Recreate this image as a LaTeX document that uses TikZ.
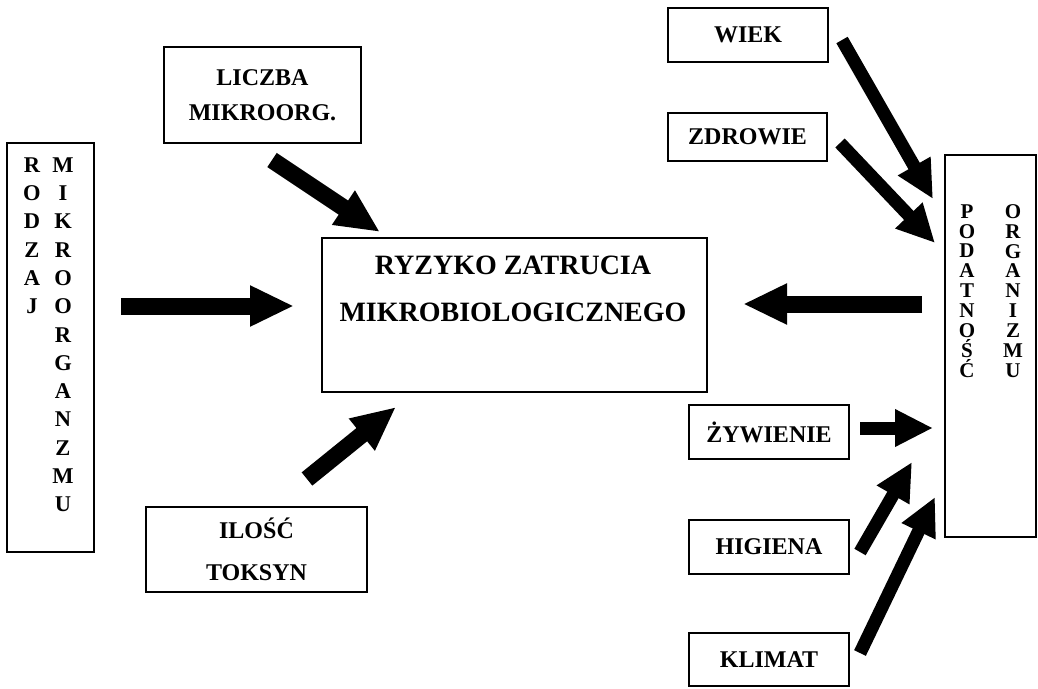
\documentclass[tikz,border=0pt]{standalone}
\usepackage{fontspec}
\setmainfont{Liberation Serif}
\usetikzlibrary{arrows.meta}
\begin{document}
\begin{tikzpicture}[x=1pt,y=-1pt,
  box/.style={draw=black, line width=1.2pt, inner sep=0pt, align=center,
    font=\bfseries\fontsize{24}{35}\selectfont},
  lbl/.style={inner sep=0pt, align=center},
  fat/.style={line width=17pt, -{Triangle[length=44pt,width=38pt]}},
  slim/.style={line width=13pt, -{Triangle[length=38pt,width=35pt]}}
]
\useasboundingbox[fill=white] (0,0) rectangle (1038,688);

% boxes
\node[box, minimum width=385, minimum height=154] (main) at (514.5,315) {};
\node[lbl, font=\bfseries\fontsize{28}{47}\selectfont] (mainT) at (513,289)
  {RYZYKO ZATRUCIA\\MIKROBIOLOGICZNEGO};

\node[box, minimum width=197, minimum height=96] (liczba) at (262.5,95) {LICZBA\\MIKROORG.};
\node[box, minimum width=221, minimum height=85, font=\bfseries\fontsize{24}{42}\selectfont] (ilosc) at (256.5,549.5) {ILOŚĆ\\TOKSYN};

\node[box, minimum width=87, minimum height=409] (rodzaj) at (50.5,347.5) {};
\node[lbl, font=\bfseries\fontsize{22.5}{28.3}\selectfont] (rodzajA) at (32,235.75)
  {R\\O\\D\\Z\\A\\J};
\node[lbl, font=\bfseries\fontsize{22.5}{28.3}\selectfont] (rodzajB) at (63,334.8)
  {M\\I\\K\\R\\O\\O\\R\\G\\A\\N\\Z\\M\\U};

\node[box, minimum width=160, minimum height=54] (wiek) at (748,35) {WIEK};
\node[box, minimum width=159, minimum height=48] (zdrowie) at (747.5,137) {ZDROWIE};
\node[box, minimum width=160, minimum height=54] (zywienie) at (769,432) {ŻYWIENIE};
\node[box, minimum width=160, minimum height=54] (higiena) at (769,547) {HIGIENA};
\node[box, minimum width=160, minimum height=53] (klimat) at (769,659.5) {KLIMAT};

\node[box, minimum width=91, minimum height=382] (podat) at (990.5,346) {};
\node[lbl, font=\bfseries\fontsize{21}{19.9}\selectfont] (podatA) at (967,291)
  {P\\O\\D\\A\\T\\N\\O\\Ś\\Ć};
\node[lbl, font=\bfseries\fontsize{21}{19.9}\selectfont] (podatB) at (1013,291)
  {O\\R\\G\\A\\N\\I\\Z\\M\\U};

% arrow end points
\coordinate (a1t) at (272,160); \coordinate (a1h) at (380,232);
\coordinate (a2t) at (121,306); \coordinate (a2h) at (294,306);
\coordinate (a3t) at (922,304); \coordinate (a3h) at (743,304);
\coordinate (a4t) at (307,479); \coordinate (a4h) at (396,407);
\coordinate (a5t) at (842,40);  \coordinate (a5h) at (933,199);
\coordinate (a6t) at (840,143); \coordinate (a6h) at (935,243);
\coordinate (a7t) at (860,428); \coordinate (a7h) at (933,428);
\coordinate (a8t) at (860,552); \coordinate (a8h) at (912,462);
\coordinate (a9t) at (860,653); \coordinate (a9h) at (935,497);

\draw[fat] (a1t) -- (a1h);
\draw[fat] (a2t) -- (a2h);
\draw[fat] (a3t) -- (a3h);
\draw[fat] (a4t) -- (a4h);
\draw[slim] (a5t) -- (a5h);
\draw[slim] (a6t) -- (a6h);
\draw[slim] (a7t) -- (a7h);
\draw[slim] (a8t) -- (a8h);
\draw[slim] (a9t) -- (a9h);
\end{tikzpicture}
\end{document}
